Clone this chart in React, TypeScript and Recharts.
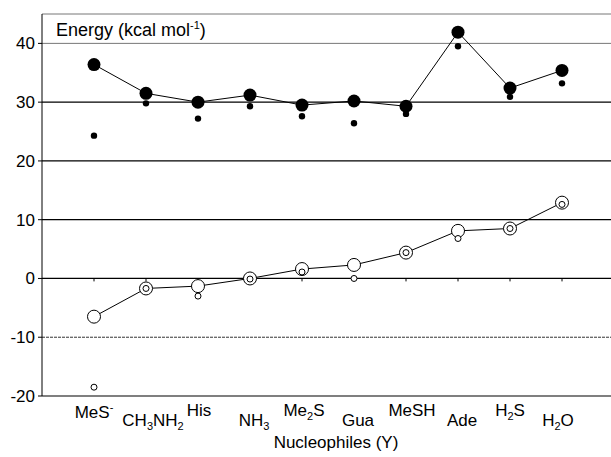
import React from "react";
import {
  LineChart,
  Line,
  XAxis,
  YAxis,
  ReferenceLine,
} from "recharts";

// nucleophile labels: "_x" = subscript char, "^x" = superscript char
const categories = [
  "MeS^-",
  "CH_3NH_2",
  "His",
  "NH_3",
  "Me_2S",
  "Gua",
  "MeSH",
  "Ade",
  "H_2S",
  "H_2O",
];

const bigFilled = [36.4, 31.5, 30.0, 31.2, 29.5, 30.2, 29.3, 41.9, 32.4, 35.4];
const smallFilled = [24.3, 29.8, 27.2, 29.3, 27.6, 26.4, 28.0, 39.5, 30.9, 33.2];
const bigOpen = [-6.5, -1.7, -1.3, 0.0, 1.6, 2.3, 4.4, 8.1, 8.5, 12.9];
const smallOpen = [-18.5, -1.7, -3.0, -0.1, 1.1, 0.0, 4.4, 6.8, 8.5, 12.6];

const yTicks = [-20, -10, 0, 10, 20, 30, 40];

// small horizontal nudges of the category labels, as in the original figure
const labelShift = [0, 7, 1, 4, 2, 4, 6, 4, 0, -4];

const FONT = "'Liberation Sans', Arial, sans-serif";

const data = categories.map((name, i) => ({
  x: i + 1,
  name,
  bigFilled: bigFilled[i],
  smallFilled: smallFilled[i],
  bigOpen: bigOpen[i],
  smallOpen: smallOpen[i],
}));

function parseLabel(s: string) {
  const parts: { t: string; k: "n" | "sub" | "sup" }[] = [];
  let i = 0;
  while (i < s.length) {
    const c = s[i];
    if (c === "_" || c === "^") {
      parts.push({ t: s[i + 1], k: c === "_" ? "sub" : "sup" });
      i += 2;
    } else {
      const last = parts[parts.length - 1];
      if (last && last.k === "n") last.t += c;
      else parts.push({ t: c, k: "n" });
      i += 1;
    }
  }
  return parts;
}

function CategoryTick(props: any) {
  const { x, y, payload } = props;
  const idx = Number(payload.value) - 1;
  const label = categories[idx];
  if (!label) return null;
  const baseY = y + (idx === 0 ? 14 : idx % 2 === 0 ? 12 : 22);
  const parts = parseLabel(label);
  let prev: "n" | "sub" | "sup" = "n";
  const off = (k: string) => (k === "sub" ? 4 : k === "sup" ? -7 : 0);
  return (
    <text
      x={x + labelShift[idx]}
      y={baseY}
      textAnchor="middle"
      fontFamily={FONT}
      fontSize={17}
      fill="#000"
    >
      {parts.map((p, j) => {
        const dy = off(p.k) - off(prev);
        prev = p.k;
        return (
          <tspan key={j} dy={dy} fontSize={p.k === "n" ? 17 : 11}>
            {p.t}
          </tspan>
        );
      })}
    </text>
  );
}

export default function App() {
  return (
    <div
      style={{
        position: "absolute",
        left: 0,
        top: 0,
        width: 611,
        height: 457,
        overflow: "hidden",
        background: "#fff",
      }}
    >
      <LineChart
        width={620}
        height={457}
        data={data}
        margin={{ top: 14, right: 6, bottom: 11, left: 0 }}
      >
        <XAxis
          type="number"
          dataKey="x"
          domain={[0, 11]}
          ticks={[1, 2, 3, 4, 5, 6, 7, 8, 9, 10]}
          height={50}
          axisLine={{ stroke: "#000", strokeWidth: 1.2 }}
          tickLine={false}
          tick={<CategoryTick />}
          interval={0}
          label={{
            content: (p: any) => {
              const vb = p.viewBox || {};
              return (
                <text
                  x={336}
                  y={(vb.y ?? 396) + 52}
                  textAnchor="middle"
                  fontFamily={FONT}
                  fontSize={17}
                  fill="#000"
                >
                  Nucleophiles (Y)
                </text>
              );
            },
          }}
        />
        <YAxis
          type="number"
          domain={[-20, 45]}
          ticks={yTicks}
          width={42}
          axisLine={{ stroke: "#000", strokeWidth: 1 }}
          tickLine={{ stroke: "#000" }}
          tickSize={4}
          tickMargin={3}
          tick={{ fontFamily: FONT, fontSize: 17, fill: "#000" }}
          allowDataOverflow
        />
        <ReferenceLine
          y={45}
          stroke="#777"
          strokeWidth={1}
          label={{
            content: (p: any) => {
              const vb = p.viewBox || {};
              return (
                <text
                  x={(vb.x ?? 42) + 14}
                  y={(vb.y ?? 14) + 22}
                  fontFamily={FONT}
                  fontSize={18}
                  fill="#000"
                >
                  Energy (kcal mol
                  <tspan dy={-7} fontSize={11}>
                    -1
                  </tspan>
                  <tspan dy={7}>)</tspan>
                </text>
              );
            },
          }}
        />
        <ReferenceLine y={40} stroke="#777" strokeWidth={1} />
        <ReferenceLine y={30} stroke="#000" strokeWidth={1.2} />
        <ReferenceLine y={20} stroke="#000" strokeWidth={1.2} />
        <ReferenceLine y={10} stroke="#000" strokeWidth={1.2} />
        <ReferenceLine y={0} stroke="#000" strokeWidth={1.2} />
        <ReferenceLine
          y={-10}
          stroke="#333"
          strokeWidth={1}
          strokeDasharray="3 1"
        />
        {data.map((d) => (
          <ReferenceLine
            key={`t${d.x}`}
            segment={[
              { x: d.x, y: 0 },
              { x: d.x, y: -0.5 },
            ]}
            stroke="#000"
            strokeWidth={1}
          />
        ))}
        <Line
          dataKey="bigFilled"
          stroke="#000"
          strokeWidth={1}
          isAnimationActive={false}
          dot={{ r: 6.5, fill: "#000", stroke: "#000", strokeWidth: 0 }}
          activeDot={false}
        />
        <Line
          dataKey="smallFilled"
          stroke="none"
          isAnimationActive={false}
          dot={{ r: 3.2, fill: "#000", stroke: "#000", strokeWidth: 0 }}
          activeDot={false}
        />
        <Line
          dataKey="bigOpen"
          stroke="#000"
          strokeWidth={1}
          isAnimationActive={false}
          dot={{ r: 6.5, fill: "#fff", stroke: "#000", strokeWidth: 1 }}
          activeDot={false}
        />
        <Line
          dataKey="smallOpen"
          stroke="none"
          isAnimationActive={false}
          dot={{ r: 3, fill: "#fff", stroke: "#000", strokeWidth: 1 }}
          activeDot={false}
        />
      </LineChart>
    </div>
  );
}
